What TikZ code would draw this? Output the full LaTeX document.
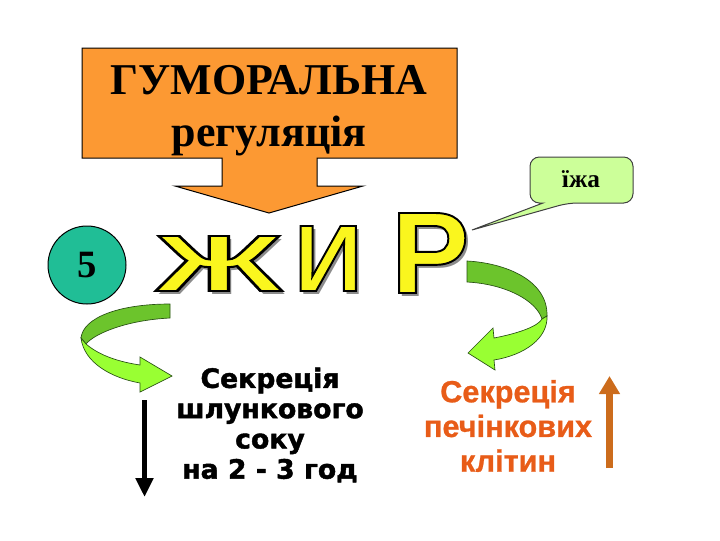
\documentclass[tikz,border=0pt]{standalone}
\usepackage{fontspec}
\setmainfont{Liberation Serif}
\newfontfamily\arialfont[BoldFeatures={FakeBold=0.8}]{Liberation Sans}
\newfontfamily\dejavufont[BoldFeatures={FakeBold=1.6}]{DejaVu Sans}
\newfontfamily\wordfont{Liberation Sans}
\usepackage{tikz}
\usetikzlibrary{arrows.meta}

\definecolor{calloutOrange}{RGB}{252,153,51}
\definecolor{circleTeal}{RGB}{32,190,150}
\definecolor{foodGreen}{RGB}{204,255,153}
\definecolor{bandDark}{RGB}{108,196,44}
\definecolor{bandLight}{RGB}{153,255,51}
\definecolor{bandLine}{RGB}{40,80,20}
\definecolor{wordYellow}{RGB}{250,246,30}
\definecolor{liverText}{RGB}{232,92,24}
\definecolor{liverArrow}{RGB}{204,108,28}

% outlined letters (fill + black stroke)
\newcommand{\wordart}[1]{\special{pdf:literal 2 Tr 0 0 0 RG 1.4 w}#1\special{pdf:literal 0 Tr}}
% one letter of the word art: width, height, font size, letter
\newcommand{\jirletter}[4]{%
  \makebox[0pt][l]{\hspace*{2.25pt}\raisebox{-2.25pt}{\color{black!45}\resizebox{#1}{#2}{\wordfont\bfseries\fontsize{#3}{#3}\selectfont #4}}}%
  {\color{wordYellow}\wordart{\resizebox{#1}{#2}{\wordfont\bfseries\fontsize{#3}{#3}\selectfont #4}}}}

\begin{document}
\begin{tikzpicture}[x=0.75pt,y=0.75pt,yscale=-1,xscale=1]
\path [use as bounding box] (0,0) rectangle (720,540);

%Shape: Down Arrow Callout [id:humoral]
\draw [fill=calloutOrange, line width=0.75]  (82,48) -- (457,48) -- (457,158) -- (317,158) -- (317,186) -- (363,186) -- (269,213) -- (175,186) -- (222,186) -- (222,158) -- (82,158) -- cycle ;
% Text Node
\draw (269,111) node [inner sep=0.75pt, align=center, font=\bfseries\fontsize{33}{39}\selectfont] (humoral) {ГУМОРАЛЬНА\\регуляція};

%Shape: Circle [id:five]
\draw (87,265) node [circle, draw, line width=0.75, fill=circleTeal, minimum size=58.5pt, inner sep=0pt, font=\bfseries\fontsize{29}{29}\selectfont] (five) {5};

%Word Art
\draw (156,291) node [anchor=base west, inner sep=0pt] (letterZh) {\jirletter{93.75pt}{41.25pt}{58}{Ж}};
\draw (294,291) node [anchor=base west, inner sep=0pt] (letterI) {\jirletter{51pt}{48.75pt}{68}{И}};
\draw (391,293) node [anchor=base west, inner sep=0pt] (letterR) {\jirletter{58.5pt}{60pt}{84}{Р}};

%Shape: Rectangular Callout [id:food]
\coordinate (foodTip) at (472,230);
\draw [fill=foodGreen, draw=black!75, line width=0.75]  (foodTip) -- (543,203) [rounded corners=7] -- (530,203) -- (530,157) -- (633,157) -- (633,203) -- (568,203) [sharp corners] -- cycle ;
% Text Node
\draw (581,179) node [inner sep=0.75pt, font=\bfseries\fontsize{19}{19}\selectfont] (food) {їжа};

%Curved Arrow: left
\draw [fill=bandDark, draw=bandLine, line width=0.5]  (170,304) .. controls (118,304) and (83,318) .. (81,338) -- (86,344) .. controls (95,333) and (128,320) .. (170,318) -- cycle ;
\draw [fill=bandLight, draw=bandLine, line width=0.5]  (86,344) .. controls (100,356) and (120,362) .. (140,365) -- (140,357) -- (172,376) -- (140,392) -- (140,383) .. controls (112,378) and (84,363) .. (81,338) -- cycle ;

%Curved Arrow: right
\draw [fill=bandDark, draw=bandLine, line width=0.5]  (467,261) .. controls (505,263) and (548,280) .. (547,316) -- (542,319) .. controls (536,300) and (505,284) .. (467,282) -- cycle ;
\draw [fill=bandLight, draw=bandLine, line width=0.5]  (547,316) .. controls (548,338) and (525,355) .. (494,360) -- (495,370) -- (468,353) -- (493,328) -- (494,338) .. controls (520,333) and (538,326) .. (542,319) -- cycle ;

% Text Node
\draw (270,425) node [inner sep=0.75pt, align=center, font=\dejavufont\bfseries\fontsize{20}{22.7}\selectfont] (gastric) {Секреція\\шлункового\\соку\\на 2 - 3 год};
% Text Node
\draw (508,426) node [inner sep=0.75pt, align=center, text=liverText, font=\arialfont\bfseries\fontsize{23}{26}\selectfont] (hepatic) {Секреція\\печінкових\\клітин};

%Straight Lines [id:gastricArrow]
\coordinate (gastricTop) at (144.5,400);
\coordinate (gastricEnd) at (144.5,497);
\draw [line width=4.2pt, -{Triangle[width=12.75pt,length=14.25pt]}]  (gastricTop) -- (gastricEnd) ;
%Straight Lines [id:liverArrow]
\coordinate (liverBase) at (609.5,468);
\coordinate (liverTip) at (609.5,376);
\draw [liverArrow, line width=5.4pt, -{Triangle[width=15pt,length=13.5pt]}]  (liverBase) -- (liverTip) ;

\end{tikzpicture}
\end{document}
